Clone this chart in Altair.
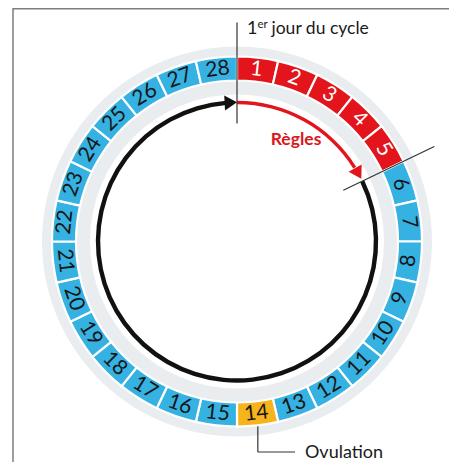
import math
import altair as alt
import pandas as pd

# ---------------- data ----------------
days = list(range(1, 29))
phases = ["Règles"] * 5 + ["Cycle"] * 8 + ["Ovulation"] + ["Cycle"] * 14
phase_names = ["Règles", "Cycle", "Ovulation"]
phase_fill = ["#e3141c", "#35b1e2", "#f6b31c"]
phase_text = ["#ffffff", "#161616", "#161616"]

cycle_length = 28
regles_days = [0, 5]          # start / end of the period (in days)
marker_days = [0, 5]          # radial marker lines
ovulation_day = 14

label_first_day = ["1", "er", "jour du cycle"]
label_regles = "Règles"
label_ovulation = "Ovulation"

# ---------------- geometry / style ----------------
CX, CY = 229, 233.5           # circle centre in view coordinates
R_BAND_OUT, R_BAND_IN = 195, 147
R_SEG_OUT, R_SEG_IN = 185, 161
R_LABEL = 173
R_ARROW = 139
THETA = alt.Scale(domain=[0, cycle_length], range=[0, 2 * math.pi])


def ang(d):
    return d / cycle_length * 2 * math.pi


def polar(d, r):
    a = ang(d)
    return CX + r * math.sin(a), CY - r * math.cos(a)


fill_of = dict(zip(phase_names, phase_fill))
text_of = dict(zip(phase_names, phase_text))

seg = pd.DataFrame({"day": days, "phase": phases})
seg["start"] = seg["day"] - 1
seg["end"] = seg["day"]
seg["mid"] = seg["day"] - 0.5
seg["fill"] = seg["phase"].map(fill_of)
seg["tcolor"] = seg["phase"].map(text_of)


def rot(m):
    t = m / cycle_length * 360
    if t < 90:
        r = t
    elif t < 270:
        r = t - 180
    else:
        r = t - 360
    return r % 360


seg["rot"] = seg["mid"].apply(rot)

xy = dict(x=alt.value(CX), y=alt.value(CY))

band = alt.Chart(pd.DataFrame({"start": [0], "end": [cycle_length]})).mark_arc(
    color="#eaedf0"
).encode(
    theta=alt.Theta("start:Q", scale=THETA),
    theta2="end:Q",
    radius=alt.value(R_BAND_OUT),
    radius2=alt.value(R_BAND_IN),
    **xy,
)

segments = alt.Chart(seg).mark_arc(stroke="white", strokeWidth=2.2).encode(
    theta=alt.Theta("start:Q", scale=THETA),
    theta2="end:Q",
    radius=alt.value(R_SEG_OUT),
    radius2=alt.value(R_SEG_IN),
    color=alt.Color("fill:N", scale=None),
    **xy,
)

numbers = alt.Chart(seg).mark_text(
    font="Lato", fontSize=21, align="center", baseline="middle"
).encode(
    theta=alt.Theta("mid:Q", scale=THETA),
    radius=alt.value(R_LABEL),
    angle=alt.Angle("rot:Q", scale=None),
    text="day:N",
    color=alt.Color("tcolor:N", scale=None),
    **xy,
)

# arrows (arcs) : red = period, black = rest of the cycle
red_arc = alt.Chart(
    pd.DataFrame({"start": [regles_days[0]], "end": [regles_days[1] - 0.5]})
).mark_arc(color="#e3141c").encode(
    theta=alt.Theta("start:Q", scale=THETA),
    theta2="end:Q",
    radius=alt.value(R_ARROW + 1.7),
    radius2=alt.value(R_ARROW - 1.7),
    **xy,
)
black_arc = alt.Chart(
    pd.DataFrame({"start": [regles_days[1]], "end": [cycle_length - 0.35]})
).mark_arc(color="#111111").encode(
    theta=alt.Theta("start:Q", scale=THETA),
    theta2="end:Q",
    radius=alt.value(R_ARROW + 2.2),
    radius2=alt.value(R_ARROW - 2.2),
    **xy,
)

HALF = 7.5
heads = []
for tip, col in [(regles_days[1] - 0.08, "#e3141c"), (cycle_length, "#111111")]:
    c = tip - HALF / R_ARROW / (2 * math.pi) * cycle_length
    px, py = polar(c, R_ARROW)
    heads.append({"px": px, "py": py, "ang": (c / cycle_length * 360) % 360, "col": col})
heads_df = pd.DataFrame(heads)
arrowheads = alt.Chart(heads_df).mark_point(
    filled=True, shape="M1,0L-0.65,-1L-0.65,1Z", size=(2 * HALF) ** 2, opacity=1
).encode(
    x=alt.X("px:Q", scale=None, axis=None),
    y=alt.Y("py:Q", scale=None, axis=None),
    angle=alt.Angle("ang:Q", scale=None),
    color=alt.Color("col:N", scale=None),
)

# radial marker lines
mk = []
for d in marker_days:
    x1, y1 = polar(d, 118)
    x2, y2 = polar(d, 219)
    mk.append({"x": x1, "y": y1, "x2": x2, "y2": y2})
markers = alt.Chart(pd.DataFrame(mk)).mark_rule(color="#333333", strokeWidth=1.2).encode(
    x=alt.X("x:Q", scale=None, axis=None),
    y=alt.Y("y:Q", scale=None, axis=None),
    x2="x2:Q",
    y2="y2:Q",
)

# ovulation leader line
ox, oy = polar(ovulation_day - 0.5, R_SEG_OUT + 1)
leader_df = pd.DataFrame(
    {"x": [ox, ox], "y": [oy, 444], "x2": [ox, 287], "y2": [444, 444]}
)
leader = alt.Chart(leader_df).mark_rule(color="#333333", strokeWidth=1.2).encode(
    x=alt.X("x:Q", scale=None, axis=None),
    y=alt.Y("y:Q", scale=None, axis=None),
    x2="x2:Q",
    y2="y2:Q",
)

one = pd.DataFrame({"a": [0]})


def txt(s, x, y, size, color="#1a1a1a", weight="normal", align="left"):
    return alt.Chart(one).mark_text(
        font="Lato", fontSize=size, fontWeight=weight, align=align,
        baseline="alphabetic", color=color, text=s,
    ).encode(x=alt.value(x), y=alt.value(y))


t1 = txt(label_first_day[0], 239, 25.5, 18)
t2 = txt(label_first_day[1], 249.5, 19.5, 11.5)
t3 = txt(label_first_day[2], 263.5, 25.5, 17.5)
t4 = txt(label_regles, 288, 137, 17.5, color="#d81920", weight="bold", align="center")
t5 = txt(label_ovulation, 297, 450, 18)

# frame
frame = alt.Chart(one).mark_rule(color="#7d7d7d", strokeWidth=1.5).encode(
    x=alt.value(5), x2=alt.value(5), y=alt.value(0), y2=alt.value(462)
)
frame_top = alt.Chart(one).mark_rule(color="#7d7d7d", strokeWidth=1.5).encode(
    x=alt.value(5), x2=alt.value(449), y=alt.value(0.75), y2=alt.value(0.75)
)

chart = alt.layer(
    band, segments, numbers, red_arc, black_arc, arrowheads, markers, leader,
    t1, t2, t3, t4, t5, frame, frame_top,
).properties(
    width=441, height=454, padding=0,
    autosize=alt.AutoSizeParams(type="none"),
    background="white",
).configure_view(stroke=None)

chart.save("out.html", embed_options={"renderer": "svg", "actions": False})
